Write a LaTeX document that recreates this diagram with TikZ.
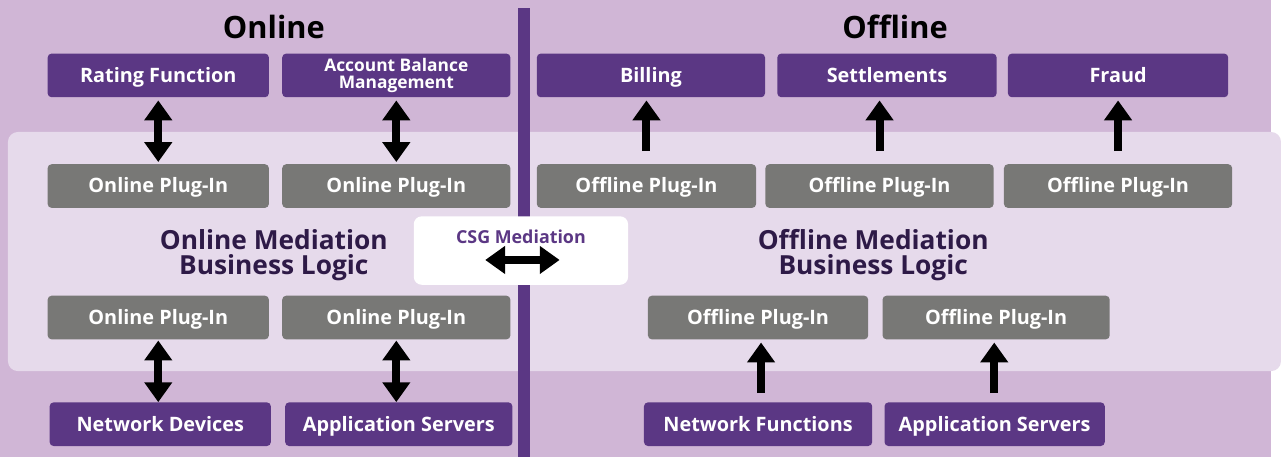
\documentclass[tikz,border=0pt]{standalone}
\usepackage{fontspec}
\setmainfont{Open Sans}
\usetikzlibrary{arrows.meta,positioning}

\definecolor{bgLilac}{RGB}{208,182,214}
\definecolor{panelLilac}{RGB}{230,218,235}
\definecolor{sysPurple}{RGB}{91,55,132}
\definecolor{plugGray}{RGB}{120,120,118}
\definecolor{logicText}{RGB}{46,26,71}

\newcommand{\boxfont}{\fontsize{20}{22}\selectfont\bfseries}

\begin{document}
\begin{tikzpicture}[x=1pt,y=-1pt,
	sys/.style={shape=rectangle, fill=sysPurple, text=white, rounded corners=4pt, minimum height=44pt, minimum width=223pt, inner sep=0pt, text height=15pt, text depth=1pt, font=\boxfont},
	plug/.style={sys, fill=plugGray},
	title/.style={font=\fontsize{31}{33}\selectfont\bfseries},
	logic/.style={align=center, text=logicText, font=\fontsize{26.5}{25}\selectfont\bfseries},
	biarrow/.style={line width=8pt, {Triangle[length=20pt,width=27pt]}-{Triangle[length=20pt,width=27pt]}},
	uparrow/.style={line width=8pt, -{Triangle[length=20pt,width=27pt]}},
]
	% background, mediation panel and the divider
	\fill[bgLilac] (0,0) rectangle (1281,461);
	\fill[panelLilac, rounded corners=10pt] (8,133) rectangle (1291,374);
	\fill[sysPurple] (522,8) rectangle (534,461);
	\useasboundingbox (0,0) rectangle (1281,461);

	% titles
	\node (online)[title] at (276,27) {Online};
	\node (offline)[title] at (902,27) {Offline};

	% online side
	\node (rate)[sys] at (159.5,76) {Rating Function};
	\node (abm)[sys, minimum width=230pt, right=13pt of rate, align=center, text height=, text depth=, font=\fontsize{17.5}{17}\selectfont\bfseries]{Account Balance\\Management};
	\node (onP1)[plug] at (159.5,187.5) {Online Plug-In};
	\node (onP2)[plug, minimum width=230pt, right=13pt of onP1] {Online Plug-In};
	\node (onLogic)[logic] at (276,257) {Online Mediation\\Business Logic};
	\node (onP3)[plug] at (159.5,320) {Online Plug-In};
	\node (onP4)[plug, minimum width=230pt, right=13pt of onP3] {Online Plug-In};
	\node (netDev)[sys] at (161.5,427.5) {Network Devices};
	\node (appOn)[sys, minimum width=229pt, right=14pt of netDev] {Application Servers};

	% offline side
	\node (bill)[sys, minimum width=230pt] at (656,76) {Billing};
	\node (settle)[sys, minimum width=221pt, right=12pt of bill] {Settlements};
	\node (fraud)[sys, minimum width=222pt, right=11pt of settle] {Fraud};
	\node (offP1)[plug, minimum width=221pt] at (651.5,187.5) {Offline Plug-In};
	\node (offP2)[plug, minimum width=230pt, right=9pt of offP1] {Offline Plug-In};
	\node (offP3)[plug, minimum width=230pt, right=10pt of offP2] {Offline Plug-In};
	\node (offLogic)[logic] at (880,257) {Offline Mediation\\Business Logic};
	\node (offP4)[plug, minimum width=222pt] at (764,320) {Offline Plug-In};
	\node (offP5)[plug, minimum width=229pt, right=14pt of offP4] {Offline Plug-In};
	\node (netFn)[sys, minimum width=230pt] at (764,427.5) {Network Functions};
	\node (appOff)[sys, minimum width=222pt, right=12pt of netFn] {Application Servers};

	% CSG box over the divider
	\node (csg)[shape=rectangle, fill=white, rounded corners=8pt, minimum width=216pt, minimum height=69pt] at (525,252.5) {};
	\node (csgText)[text=sysPurple, font=\fontsize{18}{18}\selectfont\bfseries] at (525,239) {CSG Mediation};
	\coordinate (csgL) at (489,262);
	\coordinate (csgR) at (564,262);

	% connect the nodes
	\draw[biarrow, shorten <=3pt, shorten >=2pt] (rate.south) -- (onP1.north);
	\draw[biarrow, shorten <=3pt, shorten >=2pt] (abm.south) -- (abm.south |- onP2.north);
	\draw[biarrow, shorten <=1pt, shorten >=0pt] (onP3.south) -- (netDev.north -| onP3.south);
	\draw[biarrow, shorten <=1pt, shorten >=0pt] (onP4.south) -- (onP4.south |- appOn.north);
	\draw[uparrow, shorten <=13pt, shorten >=3pt] (offP1.north) -- (offP1.north |- bill.south);
	\draw[uparrow, shorten <=13pt, shorten >=3pt] (offP2.north) -- (offP2.north |- settle.south);
	\draw[uparrow, shorten <=13pt, shorten >=3pt] (offP3.north) -- (offP3.north |- fraud.south);
	\draw[uparrow, shorten <=9pt, shorten >=3pt] (netFn.north -| 767,0) -- (offP4.south -| 767,0);
	\draw[uparrow, shorten <=9pt, shorten >=3pt] (appOff.north -| 1002,0) -- (offP5.south -| 1002,0);
	\draw[biarrow] (csgL) -- (csgR);

\end{tikzpicture}
\end{document}
